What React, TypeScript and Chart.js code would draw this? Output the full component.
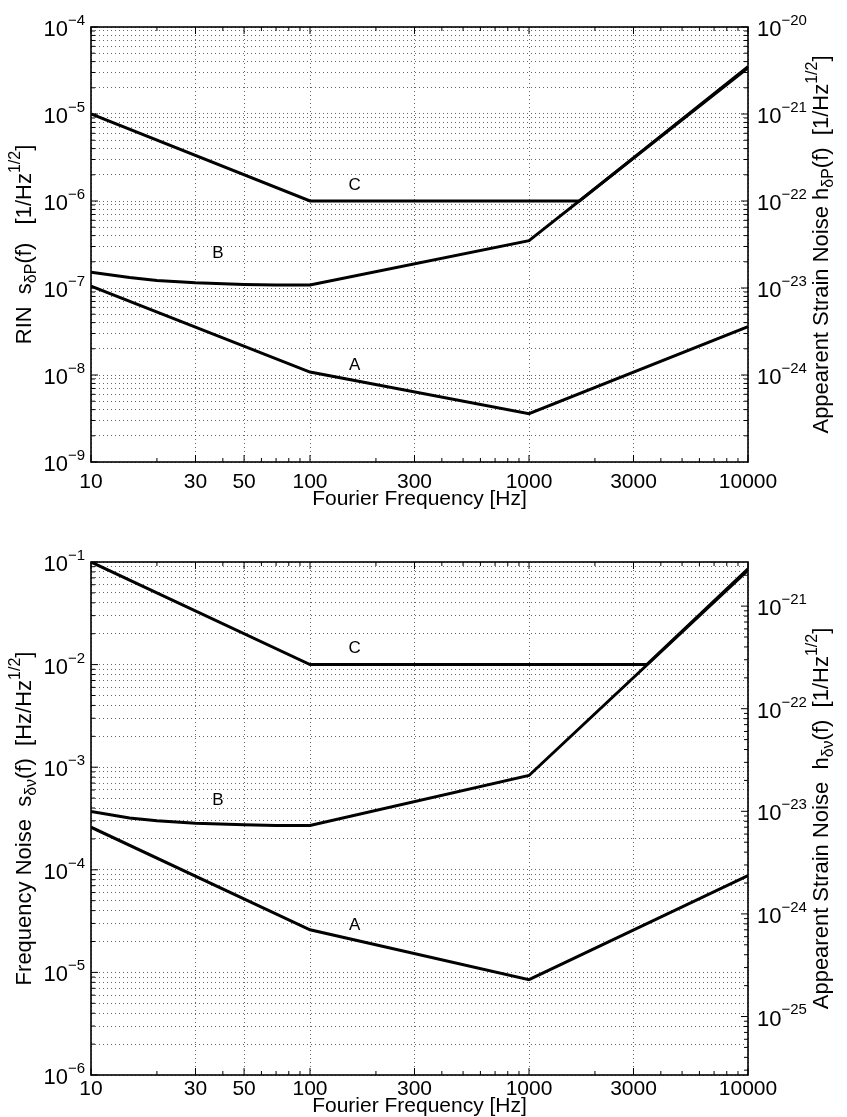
import React, { useEffect, useRef } from 'react';
import { Chart, registerables } from 'chart.js';

Chart.register(...registerables);

const PAGE_W = 847;
const FONT = '"Liberation Sans", Arial, Helvetica, sans-serif';

// ---------- shared x axis ----------
const FREQ_TICKS = [10, 30, 50, 100, 300, 1000, 3000, 10000];

// ---------- top panel: RIN ----------
const RIN_A_FREQ = [10, 100, 1000, 10000];
const RIN_A = [1.05e-7, 1.08e-8, 3.6e-9, 3.6e-8];
const RIN_B_FREQ = [10, 15, 20, 30, 50, 70, 100, 1000, 10000];
const RIN_B = [1.52e-7, 1.32e-7, 1.22e-7, 1.15e-7, 1.1e-7, 1.08e-7, 1.08e-7, 3.5e-7, 3.4e-5];
const RIN_C_FREQ = [10, 100, 1700, 10000];
const RIN_C = [1.0e-5, 1.0e-6, 1.0e-6, 3.5e-5];
const RIN_LEFT_EXP = [-9, -8, -7, -6, -5, -4];
const RIN_RIGHT_EXP = [-24, -23, -22, -21, -20];

// ---------- bottom panel: frequency noise ----------
const FN_A_FREQ = [10, 100, 1000, 10000];
const FN_A = [2.6e-4, 2.6e-5, 8.5e-6, 8.8e-5];
const FN_B_FREQ = [10, 15, 20, 30, 50, 70, 100, 1000, 10000];
const FN_B = [3.7e-4, 3.2e-4, 3.0e-4, 2.85e-4, 2.75e-4, 2.7e-4, 2.7e-4, 8.3e-4, 8.3e-2];
const FN_C_FREQ = [10, 100, 3450, 10000];
const FN_C = [0.1, 0.01, 0.01, 0.086];
const FN_LEFT_EXP = [-6, -5, -4, -3, -2, -1];
const FN_RIGHT_EXP = [-25, -24, -23, -22, -21];

type Seg = { t: string; k?: 'sub' | 'sup' };
type Note = { t: string; f: number; v: number };
type PanelDef = {
  top: number;
  height: number;
  plotTop: number;
  plotBottom: number;
  yMin: number;
  yMax: number;
  y2Min: number;
  y2Max: number;
  leftExp: number[];
  rightExp: number[];
  leftTitle: Seg[];
  rightTitle: Seg[];
  series: { f: number[]; v: number[] }[];
  notes: Note[];
  xTickPad: number;
  xTitlePad: number;
};

const PLOT_LEFT = 91;
const PLOT_RIGHT = 748;

function logTicks(min: number, max: number): number[] {
  const out: number[] = [];
  const e0 = Math.floor(Math.log10(min)) - 1;
  const e1 = Math.ceil(Math.log10(max)) + 1;
  for (let e = e0; e <= e1; e++) {
    for (let m = 1; m <= 9; m++) {
      const v = m * Math.pow(10, e);
      if (v >= min * 0.9999 && v <= max * 1.0001) out.push(v);
    }
  }
  return out;
}

function isPow10(v: number) {
  const l = Math.log10(v);
  return Math.abs(l - Math.round(l)) < 1e-9;
}

function drawRich(
  ctx: CanvasRenderingContext2D,
  segs: Seg[],
  x: number,
  y: number,
  rot: number,
  size: number,
  align: 'center' | 'left' | 'right',
  ratio = 0.72
) {
  ctx.save();
  ctx.translate(x, y);
  ctx.rotate(rot);
  ctx.textBaseline = 'middle';
  ctx.textAlign = 'left';
  ctx.fillStyle = '#000';
  const small = Math.round(size * ratio);
  const widths = segs.map((s) => {
    ctx.font = `${s.k ? small : size}px ${FONT}`;
    return ctx.measureText(s.t).width;
  });
  const total = widths.reduce((a, b) => a + b, 0);
  let cx = align === 'center' ? -total / 2 : align === 'right' ? -total : 0;
  segs.forEach((s, i) => {
    ctx.font = `${s.k ? small : size}px ${FONT}`;
    const dy = s.k === 'sup' ? -size * 0.42 : s.k === 'sub' ? size * 0.32 : 0;
    ctx.fillText(s.t, cx, dy);
    cx += widths[i];
  });
  ctx.restore();
}

function decorPlugin(p: PanelDef) {
  return {
    id: 'decor',
    afterDraw(chart: any) {
      const { ctx, chartArea: a, scales } = chart;
      const xs = scales.x;
      const ys = scales.y;
      const y2s = scales.y2;
      ctx.save();
      ctx.strokeStyle = '#000';
      ctx.lineWidth = 1.6;
      ctx.strokeRect(a.left, a.top, a.right - a.left, a.bottom - a.top);
      ctx.lineWidth = 1;
      ctx.beginPath();
      for (const v of logTicks(10, 10000)) {
        const px = xs.getPixelForValue(v);
        const len = FREQ_TICKS.includes(v) ? 7 : 4;
        ctx.moveTo(px, a.bottom);
        ctx.lineTo(px, a.bottom - len);
        ctx.moveTo(px, a.top);
        ctx.lineTo(px, a.top + len);
      }
      for (const v of logTicks(p.yMin, p.yMax)) {
        const py = ys.getPixelForValue(v);
        const len = isPow10(v) ? 7 : 4;
        ctx.moveTo(a.left, py);
        ctx.lineTo(a.left + len, py);
      }
      for (const v of logTicks(p.y2Min, p.y2Max)) {
        const py = y2s.getPixelForValue(v);
        const len = isPow10(v) ? 7 : 4;
        ctx.moveTo(a.right, py);
        ctx.lineTo(a.right - len, py);
      }
      ctx.stroke();

      for (const e of p.leftExp) {
        const py = ys.getPixelForValue(Math.pow(10, e));
        drawRich(ctx, [{ t: '10' }, { t: '\u2212' + Math.abs(e), k: 'sup' }], a.left - 6, py + 3, 0, 22, 'right', 0.68);
      }
      for (const e of p.rightExp) {
        const py = y2s.getPixelForValue(Math.pow(10, e));
        drawRich(ctx, [{ t: '10' }, { t: '\u2212' + Math.abs(e), k: 'sup' }], a.right + 9, py + 3, 0, 22, 'left', 0.68);
      }
      const midY = (a.top + a.bottom) / 2;
      drawRich(ctx, p.leftTitle, 25, midY, -Math.PI / 2, 22, 'center');
      drawRich(ctx, p.rightTitle, 822, midY, -Math.PI / 2, 22, 'center');

      ctx.fillStyle = '#000';
      ctx.font = `17px ${FONT}`;
      ctx.textAlign = 'center';
      ctx.textBaseline = 'middle';
      for (const n of p.notes) {
        ctx.fillText(n.t, xs.getPixelForValue(n.f), ys.getPixelForValue(n.v));
      }
      ctx.restore();
    },
  };
}

const GRID_COLOR = 'rgba(0,0,0,0.6)';
const DOTS = [1, 3];

function Panel({ p }: { p: PanelDef }) {
  const ref = useRef<HTMLCanvasElement>(null);
  useEffect(() => {
    const canvas = ref.current!;
    const chart = new Chart(canvas, {
      type: 'line',
      data: {
        datasets: p.series.map((s) => ({
          data: s.f.map((f, i) => ({ x: f, y: s.v[i] })),
          borderColor: '#000',
          borderWidth: 3,
          pointRadius: 0,
          fill: false,
          tension: 0,
          yAxisID: 'y',
        })),
      },
      options: {
        responsive: false,
        animation: false,
        devicePixelRatio: 1,
        layout: { padding: { top: p.plotTop, left: 0, right: 0, bottom: 0 } },
        plugins: { legend: { display: false }, tooltip: { enabled: false }, title: { display: false } },
        scales: {
          x: {
            type: 'logarithmic',
            position: 'bottom',
            min: 10,
            max: 10000,
            afterBuildTicks: (s: any) => {
              s.ticks = FREQ_TICKS.map((v) => ({ value: v }));
            },
            afterFit: (s: any) => {
              s.height = p.height - p.plotBottom;
            },
            ticks: {
              autoSkip: false,
              maxRotation: 0,
              color: '#000',
              padding: p.xTickPad,
              font: { family: FONT, size: 21, lineHeight: 1 },
              callback: (v: any) => String(v),
            },
            grid: { color: GRID_COLOR, lineWidth: 1, drawTicks: false },
            border: { display: false, dash: DOTS },
            title: {
              display: true,
              text: 'Fourier Frequency [Hz]',
              color: '#000',
              font: { family: FONT, size: 21, lineHeight: 1 },
              padding: { top: 0, bottom: p.xTitlePad },
            },
          },
          y: {
            type: 'logarithmic',
            position: 'left',
            min: p.yMin,
            max: p.yMax,
            afterBuildTicks: (s: any) => {
              s.ticks = logTicks(p.yMin, p.yMax).map((v) => ({ value: v }));
            },
            afterFit: (s: any) => {
              s.width = PLOT_LEFT;
            },
            ticks: { display: false },
            grid: { color: GRID_COLOR, lineWidth: 1, drawTicks: false },
            border: { display: false, dash: DOTS },
          },
          y2: {
            type: 'logarithmic',
            position: 'right',
            min: p.y2Min,
            max: p.y2Max,
            afterBuildTicks: (s: any) => {
              s.ticks = logTicks(p.y2Min, p.y2Max).map((v) => ({ value: v }));
            },
            afterFit: (s: any) => {
              s.width = PAGE_W - PLOT_RIGHT;
            },
            ticks: { display: false },
            grid: { display: false, drawTicks: false },
            border: { display: false },
          },
        },
      } as any,
      plugins: [decorPlugin(p)],
    });
    return () => chart.destroy();
  }, []);
  return (
    <canvas
      ref={ref}
      width={PAGE_W}
      height={p.height}
      style={{ position: 'absolute', left: 0, top: p.top, width: PAGE_W, height: p.height, display: 'block' }}
    />
  );
}

const TOP_PANEL: PanelDef = {
  top: 0,
  height: 540,
  plotTop: 27,
  plotBottom: 462,
  yMin: 1e-9,
  yMax: 1e-4,
  y2Min: Math.pow(10, -24.9),
  y2Max: 1e-20,
  leftExp: RIN_LEFT_EXP,
  rightExp: RIN_RIGHT_EXP,
  leftTitle: [{ t: 'RIN  s' }, { t: '\u03b4P', k: 'sub' }, { t: '(f)   [1/Hz' }, { t: '1/2', k: 'sup' }, { t: ']' }],
  rightTitle: [{ t: 'Appearent Strain Noise h' }, { t: '\u03b4P', k: 'sub' }, { t: '(f)  [1/Hz' }, { t: '1/2', k: 'sup' }, { t: ']' }],
  series: [
    { f: RIN_A_FREQ, v: RIN_A },
    { f: RIN_B_FREQ, v: RIN_B },
    { f: RIN_C_FREQ, v: RIN_C },
  ],
  notes: [
    { t: 'C', f: 160, v: 1.5e-6 },
    { t: 'B', f: 38, v: 2.5e-7 },
    { t: 'A', f: 160, v: 1.3e-8 },
  ],
  xTickPad: 10,
  xTitlePad: 30,
};

const BOTTOM_PANEL: PanelDef = {
  top: 540,
  height: 577,
  plotTop: 22,
  plotBottom: 535,
  yMin: 1e-6,
  yMax: 1e-1,
  y2Min: Math.pow(10, -25.57),
  y2Max: Math.pow(10, -20.57),
  leftExp: FN_LEFT_EXP,
  rightExp: FN_RIGHT_EXP,
  leftTitle: [{ t: 'Frequency Noise  s' }, { t: '\u03b4\u03bd', k: 'sub' }, { t: '(f)  [Hz/Hz' }, { t: '1/2', k: 'sup' }, { t: ']' }],
  rightTitle: [{ t: 'Appearent Strain Noise  h' }, { t: '\u03b4\u03bd', k: 'sub' }, { t: '(f)  [1/Hz' }, { t: '1/2', k: 'sup' }, { t: ']' }],
  series: [
    { f: FN_A_FREQ, v: FN_A },
    { f: FN_B_FREQ, v: FN_B },
    { f: FN_C_FREQ, v: FN_C },
  ],
  notes: [
    { t: 'C', f: 160, v: 1.45e-2 },
    { t: 'B', f: 38, v: 4.8e-4 },
    { t: 'A', f: 160, v: 2.9e-5 },
  ],
  xTickPad: 4,
  xTitlePad: 0,
};

export default function App() {
  return (
    <div style={{ position: 'absolute', left: 0, top: 0, width: PAGE_W, height: 1117, background: '#fff', overflow: 'hidden' }}>
      <Panel p={TOP_PANEL} />
      <Panel p={BOTTOM_PANEL} />
    </div>
  );
}
